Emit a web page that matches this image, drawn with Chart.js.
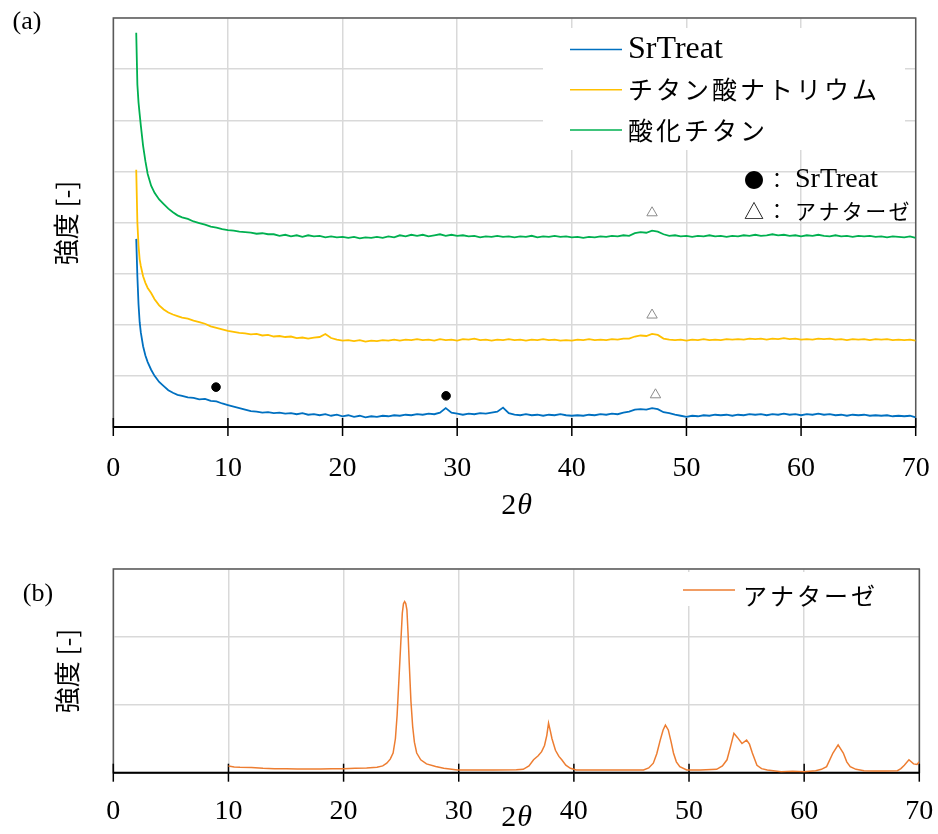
<!DOCTYPE html>
<html>
<head>
<meta charset="utf-8">
<script src="https://cdn.jsdelivr.net/npm/chart.js@4.4.1/dist/chart.umd.min.js"></script>
<style>
  html, body { margin: 0; padding: 0; background: #fff; }
  #wrap { position: relative; width: 938px; height: 834px; }
  canvas { position: absolute; left: 0; }
  #chartA { top: 0; }
  #chartB { top: 530px; }
</style>
</head>
<body>
<div id="wrap">
  <canvas id="chartA" width="938" height="530"></canvas>
  <canvas id="chartB" width="938" height="304"></canvas>
</div>
<script>
// ---- (a) 2θ sampling positions (fine at the low-angle drop) ----
const TWO_THETA_A = [
  2.0, 2.1, 2.2, 2.3, 2.4, 2.6, 2.8, 3.0, 3.3, 3.6, 4.0, 4.4, 4.8, 5.2, 5.6, 6.0,
  6.5, 7, 7.5, 8, 8.5, 9, 9.5, 10, 10.5, 11,
  11.5, 12, 12.5, 13, 13.5, 14, 14.5, 15, 15.5, 16,
  16.5, 17, 17.5, 18, 18.5, 19, 19.5, 20, 20.5, 21,
  21.5, 22, 22.5, 23, 23.5, 24, 24.5, 25, 25.5, 26,
  26.5, 27, 27.5, 28, 28.5, 29, 29.5, 30, 30.5, 31,
  31.5, 32, 32.5, 33, 33.5, 34, 34.5, 35, 35.5, 36,
  36.5, 37, 37.5, 38, 38.5, 39, 39.5, 40, 40.5, 41,
  41.5, 42, 42.5, 43, 43.5, 44, 44.5, 45, 45.5, 46,
  46.5, 47, 47.5, 48, 48.5, 49, 49.5, 50, 50.5, 51,
  51.5, 52, 52.5, 53, 53.5, 54, 54.5, 55, 55.5, 56,
  56.5, 57, 57.5, 58, 58.5, 59, 59.5, 60, 60.5, 61,
  61.5, 62, 62.5, 63, 63.5, 64, 64.5, 65, 65.5, 66,
  66.5, 67, 67.5, 68, 68.5, 69, 69.5, 70
];

// SrTreat (blue, bottom)
const SRTREAT = [
  3.68, 2.95, 2.40, 2.05, 1.85, 1.58, 1.40, 1.27, 1.12, 1.00, 0.88, 0.80, 0.72, 0.67, 0.63, 0.61,
  0.58, 0.57, 0.54, 0.55, 0.51, 0.50, 0.46, 0.43, 0.40, 0.37,
  0.34, 0.31, 0.30, 0.28, 0.29, 0.27, 0.28, 0.26, 0.27, 0.25,
  0.27, 0.24, 0.25, 0.23, 0.25, 0.22, 0.24, 0.21, 0.23, 0.20,
  0.22, 0.19, 0.21, 0.20, 0.22, 0.21, 0.23, 0.22, 0.24, 0.23,
  0.25, 0.24, 0.26, 0.25, 0.28, 0.37, 0.28, 0.26, 0.24, 0.26,
  0.25, 0.27, 0.26, 0.28, 0.30, 0.38, 0.27, 0.24, 0.23, 0.25,
  0.23, 0.24, 0.22, 0.24, 0.23, 0.25, 0.23, 0.22, 0.23, 0.22,
  0.24, 0.23, 0.25, 0.24, 0.26, 0.25, 0.28, 0.30, 0.34, 0.35,
  0.34, 0.37, 0.35, 0.29, 0.27, 0.24, 0.22, 0.20, 0.22, 0.21,
  0.23, 0.22, 0.24, 0.23, 0.24, 0.22, 0.24, 0.23, 0.25, 0.24,
  0.25, 0.23, 0.25, 0.24, 0.26, 0.24, 0.25, 0.23, 0.25, 0.24,
  0.26, 0.24, 0.25, 0.23, 0.24, 0.22, 0.24, 0.23, 0.24, 0.22,
  0.23, 0.22, 0.23, 0.21, 0.22, 0.21, 0.22, 0.19
];

// チタン酸ナトリウム (yellow, middle)
const SODIUM_TITANATE = [
  5.03, 4.00, 3.55, 3.28, 3.15, 2.95, 2.82, 2.72, 2.62, 2.50, 2.38, 2.30, 2.24, 2.20, 2.17, 2.14,
  2.12, 2.08, 2.05, 2.02, 1.97, 1.94, 1.91, 1.88, 1.86, 1.84,
  1.83, 1.81, 1.82, 1.79, 1.80, 1.77, 1.78, 1.76, 1.77, 1.74,
  1.75, 1.73, 1.75, 1.76, 1.82, 1.74, 1.71, 1.69, 1.70, 1.68,
  1.70, 1.67, 1.69, 1.68, 1.70, 1.69, 1.71, 1.69, 1.71, 1.70,
  1.72, 1.70, 1.71, 1.69, 1.72, 1.70, 1.71, 1.69, 1.72, 1.71,
  1.73, 1.70, 1.71, 1.69, 1.71, 1.70, 1.72, 1.70, 1.71, 1.69,
  1.71, 1.70, 1.72, 1.70, 1.71, 1.69, 1.70, 1.69, 1.71, 1.70,
  1.72, 1.70, 1.71, 1.70, 1.72, 1.71, 1.73, 1.73, 1.77, 1.79,
  1.78, 1.82, 1.80, 1.73, 1.71, 1.70, 1.71, 1.69, 1.71, 1.70,
  1.72, 1.70, 1.71, 1.70, 1.72, 1.71, 1.72, 1.71, 1.73, 1.72,
  1.73, 1.71, 1.73, 1.72, 1.74, 1.72, 1.73, 1.71, 1.72, 1.71,
  1.73, 1.72, 1.73, 1.71, 1.72, 1.70, 1.72, 1.71, 1.72, 1.70,
  1.72, 1.71, 1.72, 1.70, 1.71, 1.70, 1.71, 1.69
];

// 酸化チタン (green, top)
const TITANIUM_OXIDE = [
  7.71, 6.70, 6.35, 6.12, 5.90, 5.50, 5.20, 4.95, 4.72, 4.58, 4.45, 4.36, 4.27, 4.20, 4.14, 4.10,
  4.07, 4.02, 3.99, 3.96, 3.92, 3.90, 3.87, 3.85, 3.84, 3.82,
  3.81, 3.80, 3.78, 3.79, 3.77, 3.77, 3.74, 3.76, 3.73, 3.75,
  3.72, 3.75, 3.73, 3.74, 3.71, 3.73, 3.71, 3.72, 3.70, 3.72,
  3.69, 3.71, 3.70, 3.72, 3.70, 3.73, 3.71, 3.75, 3.73, 3.76,
  3.74, 3.76, 3.73, 3.75, 3.77, 3.74, 3.76, 3.74, 3.75, 3.73,
  3.74, 3.71, 3.73, 3.72, 3.74, 3.72, 3.73, 3.71, 3.73, 3.72,
  3.74, 3.71, 3.73, 3.72, 3.74, 3.72, 3.73, 3.71, 3.72, 3.70,
  3.72, 3.71, 3.73, 3.72, 3.74, 3.73, 3.75, 3.74, 3.79, 3.81,
  3.80, 3.84, 3.82, 3.77, 3.74, 3.75, 3.73, 3.74, 3.72, 3.74,
  3.73, 3.75, 3.73, 3.74, 3.72, 3.74, 3.73, 3.75, 3.74, 3.76,
  3.74, 3.75, 3.77, 3.75, 3.76, 3.74, 3.75, 3.73, 3.75, 3.74,
  3.76, 3.74, 3.73, 3.75, 3.73, 3.74, 3.72, 3.74, 3.73, 3.74,
  3.72, 3.73, 3.71, 3.73, 3.72, 3.71, 3.73, 3.70
];

// peak markers in (a)
const SR_PEAK_X = [8.96, 29.03];
const SR_PEAK_Y = [0.78, 0.61];
const ANATASE_MARK_X = [47.0, 47.0, 47.3];
const ANATASE_MARK_Y = [4.19, 2.19, 0.63];

// ---- (b) anatase reference pattern ----
const TWO_THETA_B = [
  10.0, 10.5, 11, 12, 13, 14, 15, 16, 17, 18, 19, 20, 21, 22, 22.9, 23.4, 23.75, 24.05, 24.3, 24.5,
  24.65, 24.8, 24.95, 25.1, 25.2, 25.3, 25.4, 25.5, 25.6, 25.7, 25.85, 26.0, 26.15, 26.35, 26.7, 27.2,
  28, 28.7, 29.9, 31, 33, 35, 35.6, 36.1, 36.5, 36.9, 37.2, 37.45, 37.65, 37.8, 37.95, 38.1, 38.4,
  38.7, 38.95, 39.3, 39.7, 40.2, 42, 44, 46.05, 46.5, 46.9, 47.2, 47.5, 47.75, 47.95, 48.2, 48.45,
  48.65, 48.9, 49.2, 49.8, 51, 52.4, 52.9, 53.3, 53.6, 53.9, 54.2, 54.6, 55.0, 55.25, 55.5, 55.9,
  56.3, 56.8, 58, 59, 60, 61, 61.5, 61.95, 62.5, 62.95, 63.4, 63.7, 64.0, 64.5, 65.2, 66, 67, 68.1,
  68.4, 68.7, 69.1, 69.5, 69.8, 70.0
];
const ANATASE = [
  0.10, 0.085, 0.08, 0.075, 0.065, 0.06, 0.06, 0.055, 0.055, 0.055, 0.06, 0.06, 0.065, 0.07, 0.08, 0.10, 0.14, 0.20, 0.29, 0.50,
  0.85, 1.35, 1.85, 2.35, 2.49, 2.52, 2.49, 2.40, 2.05, 1.62, 1.05, 0.68, 0.45, 0.29, 0.19, 0.13,
  0.09, 0.065, 0.04, 0.04, 0.04, 0.045, 0.05, 0.10, 0.19, 0.25, 0.31, 0.40, 0.55, 0.73, 0.62, 0.50, 0.33,
  0.24, 0.19, 0.11, 0.065, 0.04, 0.04, 0.04, 0.04, 0.07, 0.14, 0.28, 0.48, 0.63, 0.70, 0.63, 0.45,
  0.29, 0.16, 0.09, 0.04, 0.04, 0.05, 0.10, 0.19, 0.38, 0.58, 0.52, 0.43, 0.48, 0.42, 0.29, 0.11,
  0.06, 0.04, 0.015, 0.02, 0.015, 0.03, 0.05, 0.09, 0.29, 0.41, 0.29, 0.16, 0.09, 0.05, 0.03, 0.025, 0.025, 0.03,
  0.06, 0.11, 0.19, 0.13, 0.12, 0.16
];

const SERIF = "'Liberation Serif', 'Times New Roman', serif";
const JP = "'Noto Sans CJK JP', sans-serif";

const toPoints = (xs, ys) => xs.map((x, i) => ({ x, y: ys[i] }));

// draws text, using the CJK font (with a little tracking) when needed
function drawLabel(ctx, text, x, y, latinSize, jpSize, spacing) {
  const isJp = /[^\x00-\x7F]/.test(text);
  ctx.font = isJp ? `${jpSize}px ${JP}` : `${latinSize}px ${SERIF}`;
  ctx.letterSpacing = isJp ? `${spacing}px` : '0px';
  ctx.fillText(text, x, y);
  ctx.letterSpacing = '0px';
}

// axis title "2θ" with upright 2 and italic θ
function drawTwoTheta(ctx, cx, cy) {
  ctx.textBaseline = 'middle';
  ctx.textAlign = 'left';
  ctx.font = `30px ${SERIF}`;
  const w2 = ctx.measureText('2').width;
  ctx.font = `italic 30px ${SERIF}`;
  const wt = ctx.measureText('θ').width;
  let x = cx - (w2 + wt) / 2;
  ctx.font = `30px ${SERIF}`;
  ctx.fillText('2', x, cy);
  ctx.font = `italic 30px ${SERIF}`;
  ctx.fillText('θ', x + w2 + 1, cy);
}

function panelDecor(cfg) {
  return {
    id: 'panelDecor',
    beforeDatasetsDraw(chart) {
      const { ctx, chartArea: a } = chart;
      const x = chart.scales.x;
      ctx.save();
      // white box behind the legend
      const lb = cfg.legendBox;
      ctx.fillStyle = '#fff';
      ctx.fillRect(lb.x, lb.y, lb.w, lb.h);
      // frame
      ctx.strokeStyle = '#595959';
      ctx.lineWidth = 1.5;
      ctx.strokeRect(a.left, a.top, a.right - a.left, a.bottom - a.top);
      ctx.strokeStyle = '#000';
      ctx.lineWidth = 2;
      ctx.beginPath();
      ctx.moveTo(a.left, a.bottom);
      ctx.lineTo(a.right, a.bottom);
      ctx.stroke();
      // tick marks crossing the axis
      ctx.lineWidth = 1.5;
      x.ticks.forEach(t => {
        const px = x.getPixelForValue(t.value);
        ctx.beginPath();
        ctx.moveTo(px, a.bottom - 9);
        ctx.lineTo(px, a.bottom + 9);
        ctx.stroke();
      });
      ctx.restore();
    },
    afterDraw(chart) {
      const ctx = chart.ctx;
      ctx.save();
      ctx.fillStyle = '#000';

      // legend
      const lg = cfg.legend;
      chart.data.datasets.filter(d => d.inLegend).forEach((d, i) => {
        const y = lg.y0 + i * lg.dy;
        ctx.strokeStyle = d.borderColor;
        ctx.lineWidth = 1.5;
        ctx.beginPath();
        ctx.moveTo(lg.x0, y);
        ctx.lineTo(lg.x0 + lg.len, y);
        ctx.stroke();
        ctx.textAlign = 'left';
        ctx.textBaseline = 'middle';
        ctx.fillStyle = '#000';
        drawLabel(ctx, d.label, lg.tx, y + (lg.textDy || 0), lg.latin, lg.jp, lg.spacing);
      });

      // marker key
      if (cfg.key) {
        cfg.key.forEach(k => {
          ctx.textBaseline = 'middle';
          ctx.textAlign = 'center';
          ctx.font = `${k.symSize}px ${JP}`;
          ctx.fillText(k.sym, k.sx, k.y);
          ctx.fillText('：', k.cx, k.y);
          ctx.textAlign = 'left';
          drawLabel(ctx, k.text, k.tx, k.y, 28, 21, 2.4);
        });
      }

      // panel label
      ctx.textAlign = 'center';
      ctx.textBaseline = 'middle';
      ctx.font = `26px ${SERIF}`;
      ctx.fillText(cfg.panel.text, cfg.panel.x, cfg.panel.y);

      // y title
      ctx.save();
      ctx.translate(cfg.yTitle.x, cfg.yTitle.y);
      ctx.rotate(-Math.PI / 2);
      ctx.font = `26px ${JP}`;
      ctx.textAlign = 'center';
      ctx.textBaseline = 'middle';
      ctx.fillText('強度 [-]', 0, 0);
      ctx.restore();

      // x title
      drawTwoTheta(ctx, cfg.xTitle.x, cfg.xTitle.y);
      ctx.restore();
    }
  };
}

function baseOptions(yMax, xAxisHeight, tickPad, padTop, padRight, lineWidth) {
  return {
    responsive: false,
    animation: false,
    devicePixelRatio: 1,
    layout: { padding: { top: padTop, right: padRight, left: 0, bottom: 0 } },
    plugins: { legend: { display: false }, tooltip: { enabled: false } },
    elements: { point: { radius: 0 }, line: { borderWidth: lineWidth, tension: 0 } },
    scales: {
      x: {
        type: 'linear',
        min: 0,
        max: 70,
        ticks: {
          stepSize: 10,
          padding: tickPad,
          color: '#000',
          maxRotation: 0,
          font: { family: SERIF, size: 28 }
        },
        grid: { color: '#d9d9d9', lineWidth: 1.5, drawTicks: false },
        border: { display: false },
        afterFit: s => {
          s.height = xAxisHeight;
          s.paddingLeft = 0;
          s.paddingRight = 0;
        }
      },
      y: {
        min: 0,
        max: yMax,
        ticks: { display: false, stepSize: 1 },
        grid: { color: '#d9d9d9', lineWidth: 1.5, drawTicks: false },
        border: { display: false },
        afterFit: s => { s.width = 113.3; }
      }
    }
  };
}

// ---- chart (a) ----
new Chart(document.getElementById('chartA'), {
  type: 'line',
  data: {
    datasets: [
      { label: 'SrTreat', data: toPoints(TWO_THETA_A, SRTREAT), borderColor: '#0070C0', inLegend: true },
      { label: 'チタン酸ナトリウム', data: toPoints(TWO_THETA_A, SODIUM_TITANATE), borderColor: '#FFC000', inLegend: true },
      { label: '酸化チタン', data: toPoints(TWO_THETA_A, TITANIUM_OXIDE), borderColor: '#00B050', inLegend: true },
      {
        label: 'SrTreat peak', data: toPoints(SR_PEAK_X, SR_PEAK_Y), showLine: false,
        pointRadius: 4.3, pointStyle: 'circle', pointBackgroundColor: '#000', pointBorderColor: '#000'
      },
      {
        label: 'anatase peak', data: toPoints(ANATASE_MARK_X, ANATASE_MARK_Y), showLine: false,
        pointRadius: 6, pointStyle: 'triangle', pointBackgroundColor: '#fff',
        pointBorderColor: '#8c8c8c', pointBorderWidth: 1
      }
    ]
  },
  options: baseOptions(8, 530 - 427, 25, 18, 938 - 915.7, 1.8),
  plugins: [panelDecor({
    legendBox: { x: 543, y: 28, w: 362, h: 122 },
    legend: { x0: 570, len: 52, tx: 628, y0: 49.5, dy: 40.3, latin: 32, jp: 25, spacing: 3 },
    key: [
      { sym: '●', sx: 754, cx: 777, tx: 795, y: 180, symSize: 20, text: 'SrTreat' },
      { sym: '△', sx: 754, cx: 777, tx: 795, y: 211, symSize: 20, text: 'アナターゼ' }
    ],
    panel: { text: '(a)', x: 27, y: 22 },
    yTitle: { x: 66, y: 223 },
    xTitle: { x: 516, y: 506 }
  })]
});

// ---- chart (b) ----
new Chart(document.getElementById('chartB'), {
  type: 'line',
  data: {
    datasets: [
      { label: 'アナターゼ', data: toPoints(TWO_THETA_B, ANATASE), borderColor: '#ED7D31', inLegend: true }
    ]
  },
  options: baseOptions(3, 304 - 242.7, 22, 39, 938 - 919.3, 1.5),
  plugins: [panelDecor({
    legendBox: { x: 670, y: 42, w: 225, h: 34 },
    legend: { x0: 683, len: 52, tx: 743, y0: 60, dy: 0, textDy: 6, latin: 32, jp: 24, spacing: 3 },
    panel: { text: '(b)', x: 38, y: 64 },
    yTitle: { x: 67, y: 141 },
    xTitle: { x: 516, y: 288 }
  })]
});
</script>
</body>
</html>
